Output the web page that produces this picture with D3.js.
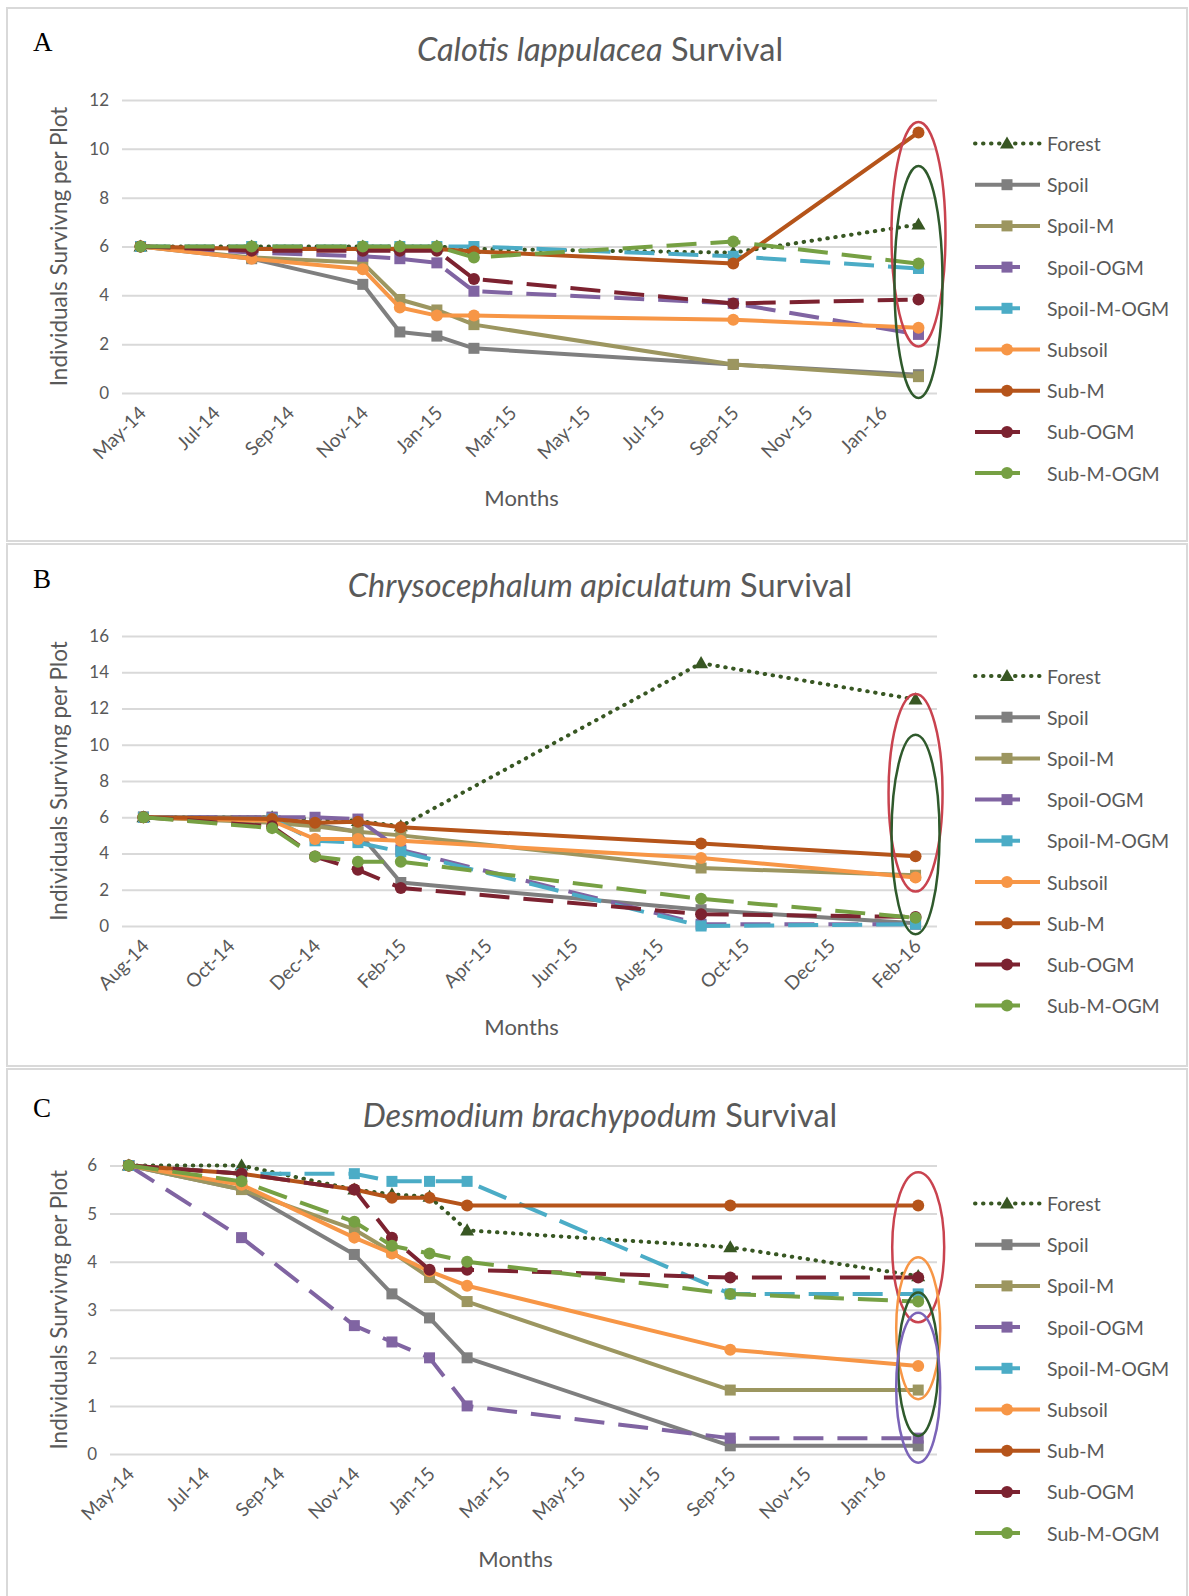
<!DOCTYPE html>
<html><head><meta charset="utf-8">
<script src="https://cdn.jsdelivr.net/npm/d3@7"></script>
<style>body{margin:0;background:#fff;} svg{display:block;}</style>
</head><body><svg id="c" width="1189" height="1596"></svg>
<script>
// ---------------- DATA ----------------
const seriesNames = ["Forest","Spoil","Spoil-M","Spoil-OGM","Spoil-M-OGM","Subsoil","Sub-M","Sub-OGM","Sub-M-OGM"];
const monthNames = ["Jan","Feb","Mar","Apr","May","Jun","Jul","Aug","Sep","Oct","Nov","Dec"];

// Panel A: Calotis lappulacea
const datesA = ["2014-05","2014-08","2014-11","2014-12","2015-01","2015-02","2015-09","2016-02"];
const ticksA = ["May-14","Jul-14","Sep-14","Nov-14","Jan-15","Mar-15","May-15","Jul-15","Sep-15","Nov-15","Jan-16"];
const yTicksA = [0,2,4,6,8,10,12];
const A_Forest    = [6, 6, 6, 6, 6, 5.9, 5.75, 6.9];
const A_Spoil     = [6, 5.5, 4.45, 2.5, 2.33, 1.83, 1.17, 0.75];
const A_SpoilM    = [6, 5.55, 5.33, 3.83, 3.4, 2.8, 1.17, 0.67];
const A_SpoilOGM  = [6, 5.75, 5.6, 5.5, 5.33, 4.17, 3.67, 2.4];
const A_SpoilMOGM = [6, 6, 6, 6, 6, 6, 5.6, 5.1];
const A_Subsoil   = [6, 5.5, 5.07, 3.5, 3.17, 3.17, 3.0, 2.67];
const A_SubM      = [6, 5.9, 5.9, 5.9, 5.9, 5.8, 5.3, 10.67];
const A_SubOGM    = [6, 5.83, 5.83, 5.83, 5.83, 4.67, 3.67, 3.83];
const A_SubMOGM   = [6, 6, 6, 6, 6, 5.55, 6.2, 5.3];
const ellLoA = [1.9, -0.2];
const ellHiA = [11.1, 9.3];

// Panel B: Chrysocephalum apiculatum
const datesB = ["2014-08","2014-11","2014-12","2015-01","2015-02","2015-09","2016-02"];
const ticksB = ["Aug-14","Oct-14","Dec-14","Feb-15","Apr-15","Jun-15","Aug-15","Oct-15","Dec-15","Feb-16"];
const yTicksB = [0,2,4,6,8,10,12,14,16];
const B_Forest    = [6, 6, 5.9, 5.8, 5.5, 14.5, 12.5];
const B_Spoil     = [6, 6, 5.6, 5.2, 2.4, 0.9, 0.15];
const B_SpoilM    = [6, 5.7, 5.5, 5.2, 5.0, 3.2, 2.8];
const B_SpoilOGM  = [6, 6, 6, 5.9, 4.2, 0.1, 0.1];
const B_SpoilMOGM = [6, 5.9, 4.7, 4.6, 4.1, 0.0, 0.1];
const B_Subsoil   = [6, 5.8, 4.8, 4.8, 4.7, 3.75, 2.67];
const B_SubM      = [6, 5.9, 5.7, 5.75, 5.45, 4.55, 3.85];
const B_SubOGM    = [6, 5.5, 3.83, 3.1, 2.1, 0.65, 0.5];
const B_SubMOGM   = [6, 5.4, 3.83, 3.55, 3.55, 1.5, 0.45];
const ellLoB = [1.9, -0.45];
const ellHiB = [12.8, 10.55];

// Panel C: Desmodium brachypodum
const datesC = ["2014-05","2014-08","2014-11","2014-12","2015-01","2015-02","2015-09","2016-02"];
const ticksC = ["May-14","Jul-14","Sep-14","Nov-14","Jan-15","Mar-15","May-15","Jul-15","Sep-15","Nov-15","Jan-16"];
const yTicksC = [0,1,2,3,4,5,6];
const C_Forest    = [6, 6, 5.5, 5.4, 5.35, 4.65, 4.3, 3.7];
const C_Spoil     = [6, 5.5, 4.15, 3.33, 2.83, 2.0, 0.17, 0.17];
const C_SpoilM    = [6, 5.5, 4.67, 4.2, 3.67, 3.17, 1.33, 1.33];
const C_SpoilOGM  = [6, 4.5, 2.67, 2.33, 2.0, 1.0, 0.33, 0.33];
const C_SpoilMOGM = [6, 5.83, 5.83, 5.67, 5.67, 5.67, 3.33, 3.33];
const C_Subsoil   = [6, 5.6, 4.5, 4.17, 3.8, 3.5, 2.17, 1.83];
const C_SubM      = [6, 5.83, 5.5, 5.33, 5.33, 5.17, 5.17, 5.17];
const C_SubOGM    = [6, 5.83, 5.5, 4.5, 3.83, 3.83, 3.67, 3.67];
const C_SubMOGM   = [6, 5.67, 4.83, 4.33, 4.17, 4.0, 3.33, 3.17];
const ellLoC = [2.74, 1.14, 0.375, -0.18];
const ellHiC = [5.86, 4.09, 3.36, 2.94];

// ---------------- STYLE ----------------
const colors = ["#385723","#7f7f7f","#9c9660","#8064a2","#4bacc6","#f79646","#b5541a","#7c2230","#76a043"];
const kinds  = ["dot","solid","solid","dash","dash","solid","solid","dash","dash"];
const shapes = ["triangle","square","square","square","square","circle","circle","circle","circle"];
const txtGray = "#595959";
const FONT = "Lato, 'Open Sans', sans-serif";

const svg = d3.select("#c");
svg.append("rect").attr("width",1189).attr("height",1596).attr("fill","#fff");

function mIdx(s){ const p=s.split("-").map(Number); return p[0]*12+(p[1]-1); }
function tIdx(l){ const p=l.split("-"); return (2000+ +p[1])*12 + monthNames.indexOf(p[0]); }

const panels = [
  {label:"A", species:"Calotis lappulacea", dates:datesA, ticks:ticksA, yTicks:yTicksA,
   vals:[A_Forest,A_Spoil,A_SpoilM,A_SpoilOGM,A_SpoilMOGM,A_Subsoil,A_SubM,A_SubOGM,A_SubMOGM],
   ellLo:ellLoA, ellHi:ellHiA, ellCol:["#c9434f","#2f5a2c"], ellRx:[27,24],
   box:[7,8,1187,541], plot:{l:122,r:937,t:100,b:393}, legY:143.5, titleY:61, labY:51, monthsY:506},
  {label:"B", species:"Chrysocephalum apiculatum", dates:datesB, ticks:ticksB, yTicks:yTicksB,
   vals:[B_Forest,B_Spoil,B_SpoilM,B_SpoilOGM,B_SpoilMOGM,B_Subsoil,B_SubM,B_SubOGM,B_SubMOGM],
   ellLo:ellLoB, ellHi:ellHiB, ellCol:["#c9434f","#2f5a2c"], ellRx:[27,24],
   box:[7,544,1187,1066], plot:{l:122,r:937,t:636,b:926}, legY:676, titleY:597, labY:588, monthsY:1035},
  {label:"C", species:"Desmodium brachypodum", dates:datesC, ticks:ticksC, yTicks:yTicksC,
   vals:[C_Forest,C_Spoil,C_SpoilM,C_SpoilOGM,C_SpoilMOGM,C_Subsoil,C_SubM,C_SubOGM,C_SubMOGM],
   ellLo:ellLoC, ellHi:ellHiC, ellCol:["#c9434f","#f79646","#2f5a2c","#7b64b8"], ellRx:[26,22,20,22],
   box:[7,1069,1187,1600], plot:{l:110,r:937,t:1165.5,b:1454}, legY:1203.5, titleY:1127, labY:1117, monthsY:1567}
];

function drawMarker(g, shape, cx, cy, col){
  if(shape==="circle") g.append("circle").attr("cx",cx).attr("cy",cy).attr("r",6).attr("fill",col);
  else if(shape==="square") g.append("rect").attr("x",cx-5.5).attr("y",cy-5.5).attr("width",11).attr("height",11).attr("fill",col);
  else g.append("path").attr("d",d3.symbol(d3.symbolTriangle,85)()).attr("transform",`translate(${cx},${cy+1})`).attr("fill",col);
}
function applyStroke(sel, kind, col){
  sel.attr("stroke",col).attr("fill","none").attr("stroke-width",4);
  if(kind==="dot") sel.attr("stroke-dasharray","0.5,7.5").attr("stroke-linecap","round");
  else if(kind==="dash") sel.attr("stroke-dasharray","30,14");
  else sel.attr("stroke-linejoin","round");
}

panels.forEach(P=>{
  const g = svg.append("g");
  g.append("rect").attr("x",P.box[0]).attr("y",P.box[1]).attr("width",P.box[2]-P.box[0]).attr("height",P.box[3]-P.box[1])
    .attr("fill","#fff").attr("stroke","#d9d9d9").attr("stroke-width",2);
  g.append("text").attr("x",33).attr("y",P.labY).text(P.label)
    .attr("font-family","'Liberation Serif','Times New Roman',serif").attr("font-size",27).attr("fill","#000");
  const t = g.append("text").attr("x",600).attr("y",P.titleY).attr("text-anchor","middle")
    .attr("font-family",FONT).attr("font-size",32.5).attr("fill",txtGray);
  t.append("tspan").attr("font-style","italic").text(P.species);
  t.append("tspan").text(" Survival");

  const months = P.dates.map(mIdx);
  const m0 = tIdx(P.ticks[0]);
  const mEnd = months[months.length-1];
  const x = d3.scaleLinear().domain([m0-0.5, mEnd+0.5]).range([P.plot.l, P.plot.r]);
  const yMax = d3.max(P.yTicks);
  const y = d3.scaleLinear().domain([0,yMax]).range([P.plot.b, P.plot.t]);

  const ya = d3.axisLeft(y).tickValues(P.yTicks).tickSize(-(P.plot.r-P.plot.l)).tickPadding(13).tickFormat(d3.format("d"));
  const yg = g.append("g").attr("transform",`translate(${P.plot.l},0)`).call(ya);
  yg.select(".domain").remove();
  yg.selectAll(".tick line").attr("stroke","#d9d9d9").attr("stroke-width",2);
  yg.selectAll(".tick text").attr("font-family",FONT).attr("font-size",17).attr("fill",txtGray);

  const tickVals = P.ticks.map(tIdx);
  const xa = d3.axisBottom(x).tickValues(tickVals).tickSize(0).tickFormat(v=>P.ticks[tickVals.indexOf(v)]);
  const xg = g.append("g").attr("transform",`translate(0,${P.plot.b})`).call(xa);
  xg.select(".domain").remove();
  xg.selectAll(".tick text").attr("font-family",FONT).attr("font-size",19).attr("fill",txtGray)
    .attr("text-anchor","end").attr("dy",null).attr("y",0)
    .attr("transform","translate(1,16) rotate(-45)").attr("dominant-baseline","central");

  g.append("text").attr("x",(P.plot.l+P.plot.r)/2 - 8).attr("y",P.monthsY).attr("text-anchor","middle")
    .attr("font-family",FONT).attr("font-size",22).attr("fill",txtGray).text("Months");
  g.append("text").attr("transform",`translate(58,${(P.plot.t+P.plot.b)/2}) rotate(-90)`)
    .attr("text-anchor","middle").attr("dominant-baseline","central")
    .attr("font-family",FONT).attr("font-size",22.5).attr("fill",txtGray).text("Individuals Survivng per Plot");

  const line = d3.line().x(d=>x(d.m)).y(d=>y(d.v));
  P.vals.forEach((vals,i)=>{
    const pts = vals.map((v,k)=>({m:months[k], v}));
    const sg = g.append("g");
    applyStroke(sg.append("path").attr("d",line(pts)), kinds[i], colors[i]);
    pts.forEach(p=>drawMarker(sg, shapes[i], x(p.m), y(p.v), colors[i]));
  });

  P.ellLo.forEach((lo,j)=>{
    const hi = P.ellHi[j];
    g.append("ellipse").attr("cx",x(mEnd)).attr("cy",(y(lo)+y(hi))/2)
      .attr("rx",P.ellRx[j]).attr("ry",Math.abs(y(lo)-y(hi))/2)
      .attr("fill","none").attr("stroke",P.ellCol[j]).attr("stroke-width",2.5);
  });

  const lg = g.append("g");
  seriesNames.forEach((name,i)=>{
    const ly = P.legY + i*41.2;
    const x1 = 975, x2 = kinds[i]==="dash" ? 1020 : 1040;
    const ln = lg.append("line").attr("x1",x1).attr("x2",x2).attr("y1",ly).attr("y2",ly);
    applyStroke(ln, kinds[i]==="dash" ? "solid" : kinds[i], colors[i]);
    drawMarker(lg, shapes[i], 1007, ly, colors[i]);
    lg.append("text").attr("x",1047).attr("y",ly).attr("dominant-baseline","central")
      .attr("font-family",FONT).attr("font-size",19.5).attr("fill",txtGray).text(name);
  });
});
</script>
</body></html>
